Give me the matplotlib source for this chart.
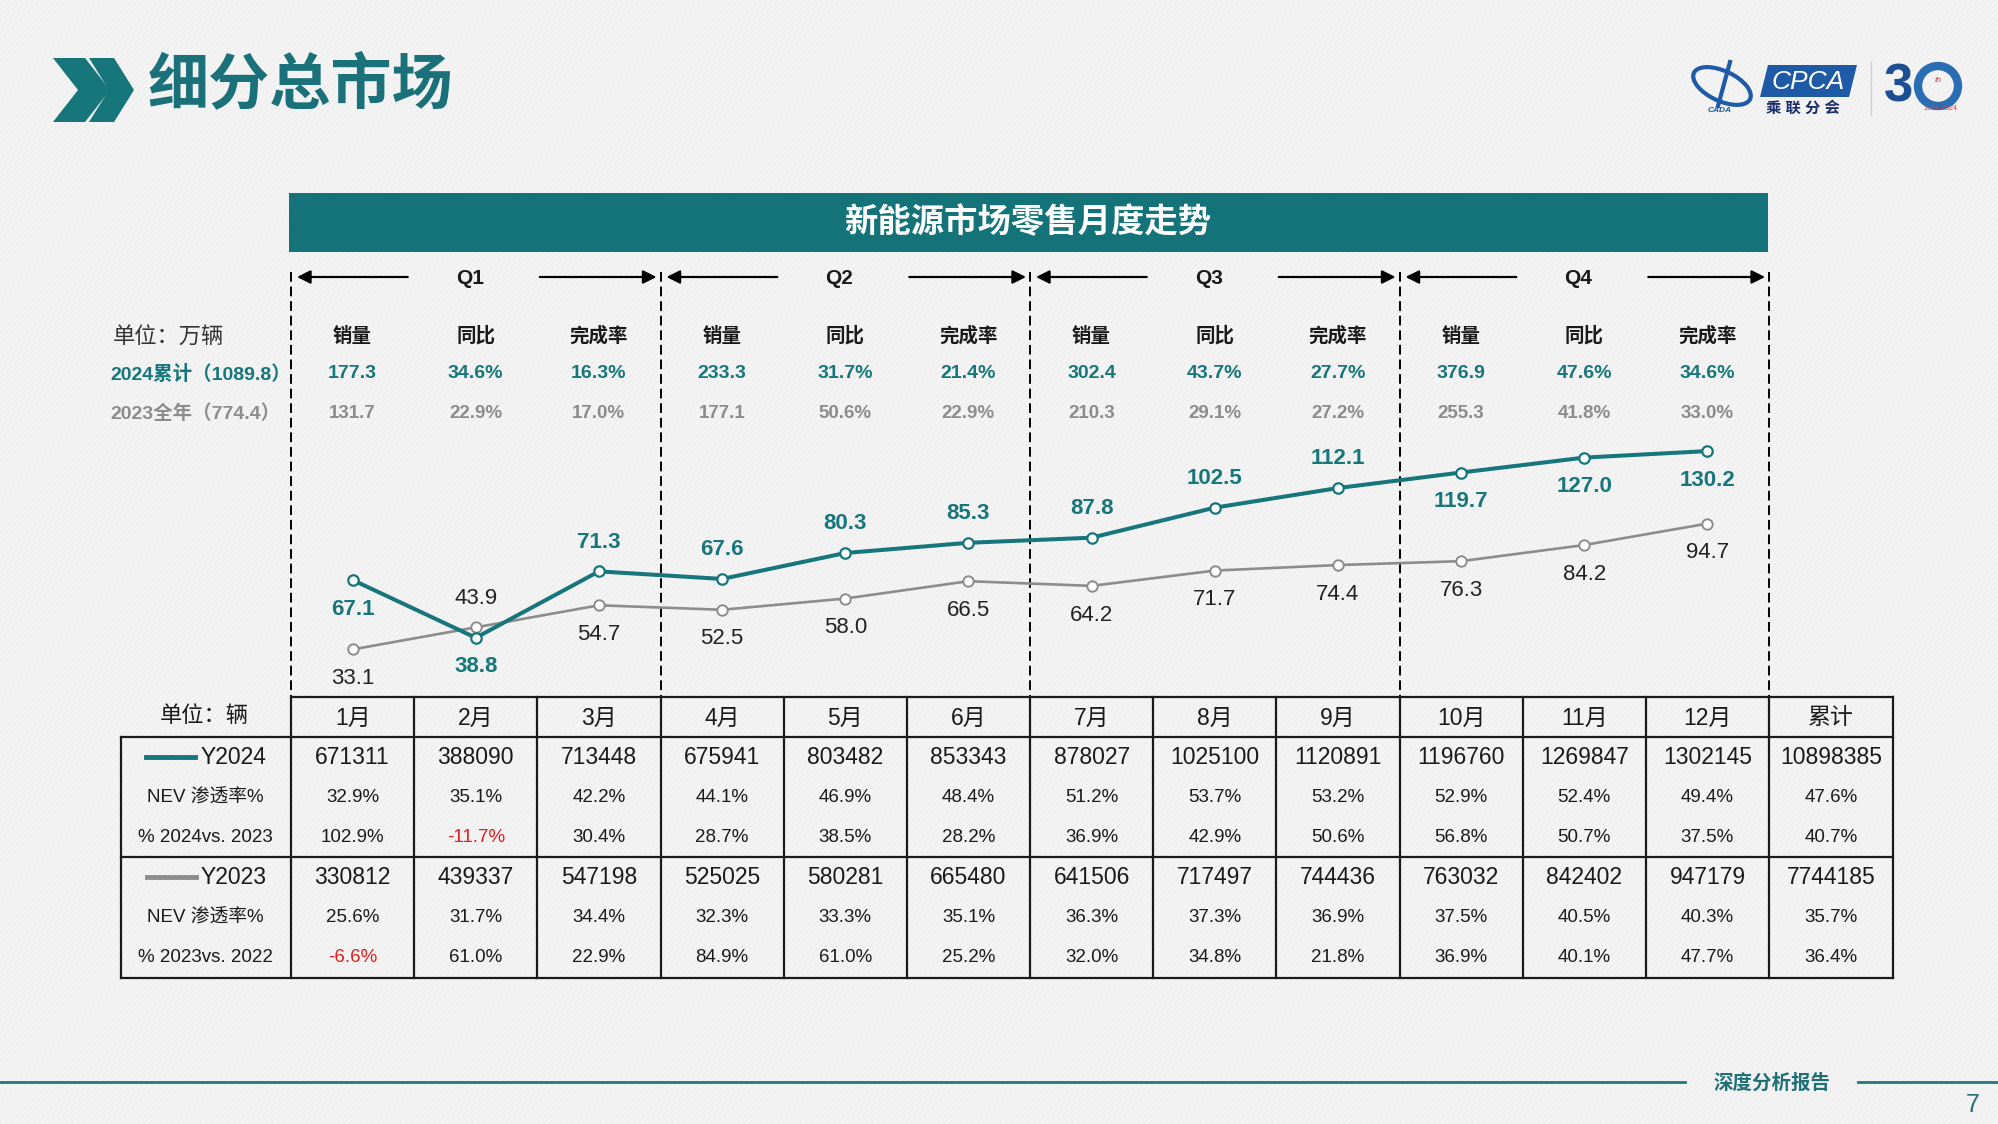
import matplotlib
matplotlib.use("Agg")
import matplotlib.pyplot as plt
from matplotlib.patches import Rectangle, Polygon, Ellipse, Circle

plt.rcParams['font.family'] = ['Liberation Sans', 'Noto Sans CJK SC', 'DejaVu Sans']
plt.rcParams['hatch.linewidth'] = 0.6

# ---- data ----
months = ["1月", "2月", "3月", "4月", "5月", "6月", "7月", "8月", "9月", "10月", "11月", "12月"]
sales_2024 = [67.1, 38.8, 71.3, 67.6, 80.3, 85.3, 87.8, 102.5, 112.1, 119.7, 127.0, 130.2]  # 万辆
sales_2023 = [33.1, 43.9, 54.7, 52.5, 58.0, 66.5, 64.2, 71.7, 74.4, 76.3, 84.2, 94.7]

quarters = ["Q1", "Q2", "Q3", "Q4"]
q_sales_2024 = [177.3, 233.3, 302.4, 376.9]
q_yoy_2024 = [34.6, 31.7, 43.7, 47.6]
q_rate_2024 = [16.3, 21.4, 27.7, 34.6]
q_sales_2023 = [131.7, 177.1, 210.3, 255.3]
q_yoy_2023 = [22.9, 50.6, 29.1, 41.8]
q_rate_2023 = [17.0, 22.9, 27.2, 33.0]

units_2024 = [671311, 388090, 713448, 675941, 803482, 853343, 878027, 1025100, 1120891, 1196760, 1269847, 1302145, 10898385]
nev_2024 = [32.9, 35.1, 42.2, 44.1, 46.9, 48.4, 51.2, 53.7, 53.2, 52.9, 52.4, 49.4, 47.6]
yoy_2024 = [102.9, -11.7, 30.4, 28.7, 38.5, 28.2, 36.9, 42.9, 50.6, 56.8, 50.7, 37.5, 40.7]
units_2023 = [330812, 439337, 547198, 525025, 580281, 665480, 641506, 717497, 744436, 763032, 842402, 947179, 7744185]
nev_2023 = [25.6, 31.7, 34.4, 32.3, 33.3, 35.1, 36.3, 37.3, 36.9, 37.5, 40.5, 40.3, 35.7]
yoy_2023 = [-6.6, 61.0, 22.9, 84.9, 61.0, 25.2, 32.0, 34.8, 21.8, 36.9, 40.1, 47.7, 36.4]

# label side: +1 above the point, -1 below
side_2024 = [-1, -1, 1, 1, 1, 1, 1, 1, 1, -1, -1, -1]
side_2023 = [-1, 1, -1, -1, -1, -1, -1, -1, -1, -1, -1, -1]

TEAL = '#16767b'
GRAY = '#8c8c8c'
DARK = '#1a1a1a'

W, H = 1999, 1124
fig = plt.figure(figsize=(W / 100, H / 100), dpi=100, facecolor='#f4f4f4')
bg = fig.add_axes([0, 0, 1, 1])
bg.set_xlim(0, W); bg.set_ylim(H, 0); bg.axis('off')
bg.add_patch(Rectangle((0, 0), W, H, facecolor='#f4f4f4', edgecolor='#ebebeb', hatch='//////', lw=0, zorder=0))

# ---- slide title ----
bg.add_patch(Polygon([(53, 58), (85, 58), (110, 90), (85, 122), (53, 122), (78, 90)], color=TEAL, lw=0))
bg.add_patch(Polygon([(89, 58), (114, 58), (134, 90), (114, 122), (89, 122), (109, 90)], color=TEAL, lw=0))
bg.text(148, 88, "细分总市场", fontsize=44, fontweight='bold', color='#1b7179', va='center', ha='left')

# ---- logo (approximation) ----
bg.add_patch(Ellipse((1722, 86), 62, 30, angle=25, fill=False, ec='#1f5aa6', lw=3))
bg.plot([1718, 1730], [106, 62], color='#1f5aa6', lw=3)
bg.text(1720, 110, "CADA", fontsize=6, style='italic', fontweight='bold', color='#1f5aa6', ha='center', va='center')
bg.add_patch(Polygon([(1760, 97), (1768, 65), (1857, 65), (1849, 97)], color='#1f5aa6', lw=0))
bg.text(1808, 82, "CPCA", fontsize=19, style='italic', color='white', ha='center', va='center')
bg.text(1803, 108, "乘 联 分 会", fontsize=11, fontweight='bold', color='#1a2d6b', ha='center', va='center')
bg.plot([1871, 1871], [62, 115], color='#cfcfcf', lw=1)
bg.text(1898, 88, "3", fontsize=38, fontweight='bold', color='#1d4e94', ha='center', va='center')
bg.add_patch(Circle((1938, 86), 20, fill=False, ec='#2b6db3', lw=6))
bg.text(1938, 80, "th", fontsize=6, style='italic', color='#d04040', ha='center', va='center')
bg.text(1940, 109, "1994-2024", fontsize=5, color='#d04040', ha='center', va='center')

# ---- chart banner ----
bg.add_patch(Rectangle((289, 193), 1479, 59, color='#137379', lw=0))
bg.text(1028, 223, "新能源市场零售月度走势", fontsize=24, fontweight='bold', color='white', ha='center', va='center')

# ---- table geometry ----
x0, cw = 291, 123.17
bounds = [x0 + cw * i for i in range(13)] + [1893]
centers = [(bounds[i] + bounds[i + 1]) / 2 for i in range(13)]

# quarter dividers and arrows
for k in range(5):
    xb = bounds[3 * k]
    bg.plot([xb, xb], [272, 697], color='black', lw=1.4, ls=(0, (5, 2.5)))
for k, q in enumerate(quarters):
    a, b = bounds[3 * k], bounds[3 * k + 3]
    mid = (a + b) / 2
    bg.text(mid - 6, 278, q, fontsize=15, fontweight='bold', color=DARK, ha='center', va='center')
    arrow = dict(arrowstyle='-|>', color='black', lw=1.6, mutation_scale=20, shrinkA=0, shrinkB=0)
    bg.annotate('', xy=(a + 6, 277), xytext=(mid - 68, 277), arrowprops=arrow)
    bg.annotate('', xy=(b - 4, 277), xytext=(mid + 64, 277), arrowprops=arrow)
    c1, c2, c3 = centers[3 * k], centers[3 * k + 1], centers[3 * k + 2]
    for cx, t in zip((c1, c2, c3), ("销量", "同比", "完成率")):
        bg.text(cx, 336, t, fontsize=14, fontweight='bold', color=DARK, ha='center', va='center')
    bg.text(c1, 374, f"{q_sales_2024[k]:.1f}", fontsize=14, fontweight='bold', color=TEAL, ha='center', va='center')
    bg.text(c2, 374, f"{q_yoy_2024[k]:.1f}%", fontsize=14, fontweight='bold', color=TEAL, ha='center', va='center')
    bg.text(c3, 374, f"{q_rate_2024[k]:.1f}%", fontsize=14, fontweight='bold', color=TEAL, ha='center', va='center')
    bg.text(c1, 414, f"{q_sales_2023[k]:.1f}", fontsize=13.5, fontweight='bold', color=GRAY, ha='center', va='center')
    bg.text(c2, 414, f"{q_yoy_2023[k]:.1f}%", fontsize=13.5, fontweight='bold', color=GRAY, ha='center', va='center')
    bg.text(c3, 414, f"{q_rate_2023[k]:.1f}%", fontsize=13.5, fontweight='bold', color=GRAY, ha='center', va='center')

bg.text(113, 338, "单位：万辆", fontsize=16, color='#333333', ha='left', va='center')
bg.text(110, 374, "2024累计（1089.8）", fontsize=14, fontweight='bold', color=TEAL, ha='left', va='center')
bg.text(110, 414, "2023全年（774.4）", fontsize=14, fontweight='bold', color=GRAY, ha='left', va='center')

# ---- line chart ----
ax = fig.add_axes([x0 / W, 1 - 697 / H, (bounds[12] - x0) / W, (697 - 400) / H], zorder=2)
ax.set_xlim(-0.5, 11.5)
ax.set_ylim(9.8, 155.2)
ax.axis('off')
ax.patch.set_alpha(0)
xs = list(range(12))
ax.plot(xs, sales_2023, color=GRAY, lw=1.9, marker='o', ms=7.5, mfc='white', mec=GRAY, mew=1.4, zorder=3)
ax.plot(xs, sales_2024, color=TEAL, lw=2.9, marker='o', ms=7.5, mfc='white', mec=TEAL, mew=1.6, zorder=4)
for i in xs:
    ax.annotate(f"{sales_2024[i]:.1f}", (i, sales_2024[i]), xytext=(0, 21 * side_2024[i]),
                textcoords='offset points', ha='center', va='center', fontsize=16,
                fontweight='bold', color=TEAL)
    ax.annotate(f"{sales_2023[i]:.1f}", (i, sales_2023[i]), xytext=(0, 21 * side_2023[i]),
                textcoords='offset points', ha='center', va='center', fontsize=16, color='#222222')

# ---- data table ----
lw = 1.6
bg.plot([bounds[0], bounds[-1]], [697, 697], color=DARK, lw=lw)
for yy in (737, 857, 978):
    bg.plot([121, bounds[-1]], [yy, yy], color=DARK, lw=lw)
bg.plot([121, 121], [737, 978], color=DARK, lw=lw)
for xb in bounds:
    bg.plot([xb, xb], [697, 978], color=DARK, lw=lw)

bg.text(204, 716, "单位：辆", fontsize=16, color=DARK, ha='center', va='center')
for i in range(13):
    head = months[i] if i < 12 else "累计"
    bg.text(centers[i], 718, head, fontsize=16.5, color=DARK, ha='center', va='center')
    bg.text(centers[i], 758, str(units_2024[i]), fontsize=16.5, color=DARK, ha='center', va='center')
    bg.text(centers[i], 798, f"{nev_2024[i]:.1f}%", fontsize=13.5, color=DARK, ha='center', va='center')
    bg.text(centers[i], 838, f"{yoy_2024[i]:.1f}%", fontsize=13.5,
            color='#e02020' if yoy_2024[i] < 0 else DARK, ha='center', va='center')
    bg.text(centers[i], 878, str(units_2023[i]), fontsize=16.5, color=DARK, ha='center', va='center')
    bg.text(centers[i], 918, f"{nev_2023[i]:.1f}%", fontsize=13.5, color=DARK, ha='center', va='center')
    bg.text(centers[i], 958, f"{yoy_2023[i]:.1f}%", fontsize=13.5,
            color='#e02020' if yoy_2023[i] < 0 else DARK, ha='center', va='center')

# row labels with legend swatches
bg.plot([146, 195], [757, 757], color=TEAL, lw=3.5)
bg.text(201, 758, "Y2024", fontsize=16.5, color=DARK, ha='left', va='center')
bg.text(205, 798, "NEV 渗透率%", fontsize=13.5, color=DARK, ha='center', va='center')
bg.text(205, 838, "% 2024vs. 2023", fontsize=13.5, color=DARK, ha='center', va='center')
bg.plot([147, 196], [877, 877], color=GRAY, lw=3.5)
bg.text(201, 878, "Y2023", fontsize=16.5, color=DARK, ha='left', va='center')
bg.text(205, 918, "NEV 渗透率%", fontsize=13.5, color=DARK, ha='center', va='center')
bg.text(205, 958, "% 2023vs. 2022", fontsize=13.5, color=DARK, ha='center', va='center')

# ---- footer ----
bg.plot([0, 1685], [1082, 1082], color='#1e7a80', lw=2)
bg.plot([1858, W], [1082, 1082], color='#1e7a80', lw=2)
bg.text(1772, 1083, "深度分析报告", fontsize=14, fontweight='bold', color='#1e6f76', ha='center', va='center')
bg.text(1973, 1105, "7", fontsize=18, color='#2a6f7a', ha='center', va='center')

fig.savefig("out.png", dpi=100, facecolor=fig.get_facecolor())
